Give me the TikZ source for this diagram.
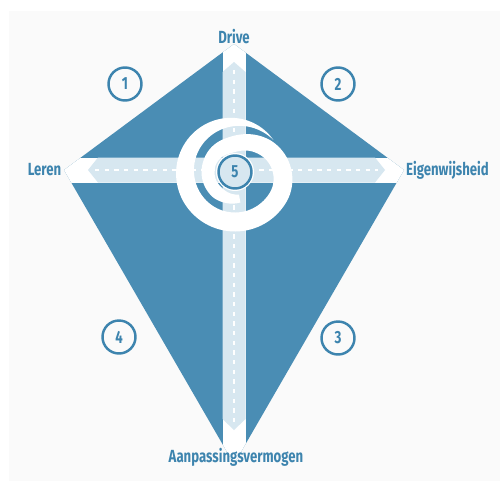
\documentclass[tikz,border=0pt]{standalone}
\usepackage{fontspec}
\setmainfont{Fira Sans}[FakeStretch=0.75]
\definecolor{kiteblue}{HTML}{4A8DB4}
\definecolor{textblue}{HTML}{3D84AE}
\definecolor{bandblue}{HTML}{D7E7F0}
\definecolor{paper}{HTML}{FAFAFA}
\tikzset{
  kitelabel/.style={font=\bfseries\fontsize{10}{12}\selectfont, text=textblue},
  numring/.style={circle, draw=textblue, line width=1.4pt, minimum size=0.66cm,
    inner sep=0pt, font=\bfseries\fontsize{10}{12}\selectfont, text=textblue},
  midline/.style={white, line width=0.6pt, dash pattern=on 2.5pt off 3pt}
}
\begin{document}
\begin{tikzpicture}[x=0.02cm, y=-0.02cm,
  declare function={
    spsm(\t)=min(1,max(0,(\t-330)/140));
    sprc(\t)=50-23*spsm(\t)*spsm(\t)*(3-2*spsm(\t));
    spwd(\t)=19*sin(min(90,(\t-40)*0.5))-6*min(1,max(0,(\t-400)/120))-5*max(0,(\t-590)/50);
  }]
  \useasboundingbox (0,0) rectangle (503,487);
  \fill[paper] (9,11) rectangle (500,481);
  % kite
  \fill[kiteblue] (234,44) -- (404,170) -- (234,464) -- (64,170) -- cycle;
  \begin{scope}
    \clip (234,44) -- (404,170) -- (234,464) -- (64,170) -- cycle;
    \fill[white] (222.5,30) rectangle (245.5,470);
    \fill[white] (50,157.5) rectangle (420,182.5);
  \end{scope}
  % light arrows
  \fill[bandblue] (234,62) -- (245.5,72) -- (245.5,419) -- (234,430)
    -- (222.5,419) -- (222.5,72) -- cycle;
  \fill[bandblue] (88,170) -- (98,157.5) -- (375,157.5) -- (385,170)
    -- (375,182.5) -- (98,182.5) -- cycle;
  \draw[midline] (234,70) -- (234,424);
  \draw[midline] (95,170) -- (378,170);
  % spiral
  \fill[white] plot[domain=40:640, samples=160, variable=\t]
      ({235+(sprc(\t)+spwd(\t)/2)*cos(\t)}, {172-(sprc(\t)+spwd(\t)/2)*sin(\t)})
    -- plot[domain=640:40, samples=160, variable=\t]
      ({235+(sprc(\t)-spwd(\t)/2)*cos(\t)}, {172-(sprc(\t)-spwd(\t)/2)*sin(\t)})
    -- cycle;
  % numbers
  \node[numring] (n1) at (125,84) {1};
  \node[numring] (n2) at (338,84) {2};
  \node[numring] (n3) at (338,338) {3};
  \node[numring] (n4) at (119,337) {4};
  \fill[white] (235,172) circle (19);
  \node[numring, fill=bandblue] (n5) at (235,172) {5};
  % labels
  \node[kitelabel] (drive) at (234,37) {Drive};
  \node[kitelabel] (leren) at (44.5,170) {Leren};
  \node[kitelabel] (eigen) at (447.5,170) {Eigenwijsheid};
  \node[kitelabel] (aanp) at (236,457) {Aanpassingsvermogen};
\end{tikzpicture}
\end{document}
